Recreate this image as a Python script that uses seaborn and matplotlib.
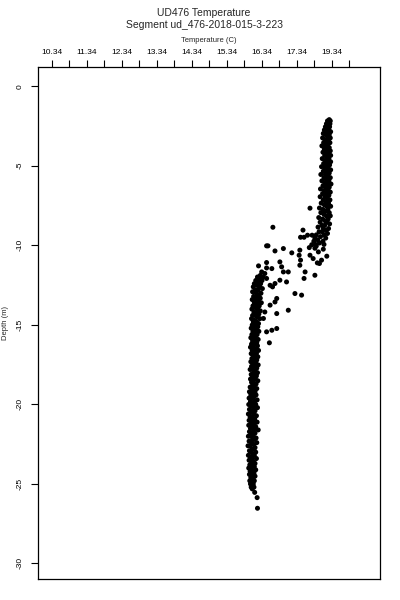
import matplotlib
matplotlib.use("Agg")
import matplotlib.pyplot as plt
import seaborn as sns
import pandas as pd

# ---- data ----
title_main = "UD476 Temperature"
title_sub = "Segment ud_476-2018-015-3-223"
x_label = "Temperature (C)"
y_label = "Depth (m)"

x_tick_values = [10.34, 10.84, 11.34, 11.84, 12.34, 12.84, 13.34, 13.84, 14.34,
                 14.84, 15.34, 15.84, 16.34, 16.84, 17.34, 17.84, 18.34, 18.84]
x_tick_labels = ["10.34", "", "11.34", "", "12.34", "", "13.34", "", "14.34",
                 "", "15.34", "", "16.34", "", "17.34", "", "19.34", ""]
y_tick_values = [0, -5, -10, -15, -20, -25, -30]

# upper (warm) layer
upper_temp = [18.27, 18.22, 18.30, 18.25, 18.19, 18.29, 18.24, 18.16, 18.28, 18.21,
              18.13, 18.26, 18.20, 18.31, 18.10, 18.17, 18.27, 18.22, 18.08, 18.30,
              18.15, 18.25, 18.19, 18.11, 18.29, 18.23, 18.06, 18.17, 18.27, 18.13,
              18.21, 18.30, 18.09, 18.18, 18.25, 18.14, 18.31, 18.20, 18.07, 18.26,
              18.16, 18.22, 18.31, 18.11, 18.19, 18.28, 18.05, 18.15, 18.24, 18.31,
              18.10, 18.20, 18.27, 18.03, 18.16, 18.23, 18.12, 18.30, 18.19, 18.06,
              18.26, 18.14, 18.22, 18.32, 18.09, 18.18, 18.27, 18.02, 18.13, 18.24,
              18.30, 18.08, 18.19, 18.26, 18.01, 18.15, 18.22, 18.10, 18.29, 18.17,
              18.04, 18.25, 18.13, 18.20, 18.31, 17.99, 18.09, 18.23, 18.16, 18.03,
              18.27, 18.12, 18.19, 18.30, 17.97, 18.08, 18.24, 18.15, 18.01, 18.21,
              18.28, 18.06, 18.14, 17.95, 18.10, 18.25, 18.18, 17.98, 18.07, 18.22,
              17.90, 18.13, 18.02, 17.86, 18.17, 17.94, 18.09, 17.83, 17.99, 17.88,
              18.12]
upper_depth = [-2.10, -2.18, -2.18, -2.28, -2.36, -2.36, -2.47, -2.55, -2.55, -2.66,
               -2.75, -2.75, -2.86, -2.86, -2.97, -3.05, -3.05, -3.16, -3.25, -3.25,
               -3.36, -3.36, -3.47, -3.55, -3.55, -3.66, -3.75, -3.75, -3.86, -3.95,
               -3.95, -4.06, -4.15, -4.15, -4.26, -4.35, -4.35, -4.46, -4.55, -4.55,
               -4.66, -4.75, -4.75, -4.86, -4.95, -4.95, -5.06, -5.15, -5.15, -5.26,
               -5.35, -5.35, -5.46, -5.55, -5.55, -5.66, -5.75, -5.75, -5.86, -5.95,
               -5.95, -6.06, -6.15, -6.15, -6.26, -6.35, -6.35, -6.46, -6.55, -6.55,
               -6.66, -6.75, -6.75, -6.86, -6.95, -6.95, -7.06, -7.15, -7.15, -7.26,
               -7.35, -7.35, -7.46, -7.55, -7.55, -7.66, -7.75, -7.75, -7.86, -7.95,
               -7.95, -8.06, -8.15, -8.15, -8.26, -8.35, -8.35, -8.46, -8.55, -8.55,
               -8.66, -8.75, -8.75, -8.86, -8.95, -8.95, -9.06, -9.15, -9.15, -9.26,
               -9.35, -9.35, -9.46, -9.55, -9.55, -9.66, -9.75, -9.75, -9.86, -9.95,
               -9.95]

# scattered thermocline points
mid_temp = [17.45, 17.65, 16.48, 16.72, 16.96, 17.20, 17.43, 17.41, 17.77, 17.86,
            17.96, 18.05, 17.99, 18.20, 17.93, 17.72, 17.81, 17.45, 17.43, 17.58,
            17.55, 17.86, 16.25, 16.48, 16.48, 16.63, 16.86, 16.91, 16.96, 17.10,
            16.86, 16.72, 16.65, 16.58, 16.43, 16.34, 16.48, 17.05, 17.29, 17.48,
            16.77, 16.72, 17.10, 16.58, 16.77, 16.43, 16.39, 16.77, 16.63, 16.48,
            16.56, 16.66, 17.72, 17.55, 17.78, 16.52, 17.52, 17.90, 18.10, 17.70]
mid_depth = [-9.50, -9.37, -10.04, -10.36, -10.21, -10.48, -10.31, -10.63, -9.97, -10.19,
             -10.42, -10.94, -11.15, -10.69, -11.11, -10.63, -10.84, -10.94, -11.26, -11.68,
             -12.09, -11.89, -11.30, -11.09, -11.43, -11.47, -11.05, -11.36, -11.68, -11.68,
             -12.20, -12.41, -12.62, -12.52, -11.78, -11.68, -12.09, -12.31, -13.04, -13.14,
             -13.35, -13.57, -14.09, -13.77, -14.30, -14.20, -14.61, -15.24, -15.35, -15.45,
             -16.14, -8.87, -7.67, -9.50, -9.37, -10.04, -9.05, -10.05, -10.25, -10.15]

# lower (cool) layer
lower_temp = [16.30, 16.22, 16.38, 16.27, 16.17, 16.35, 16.25, 16.13, 16.31, 16.21,
              16.10, 16.28, 16.36, 16.16, 16.24, 16.08, 16.19, 16.32, 16.26, 16.11,
              16.21, 16.30, 16.07, 16.17, 16.25, 16.13, 16.33, 16.20, 16.09, 16.27,
              16.16, 16.06, 16.23, 16.30, 16.12, 16.19, 16.26, 16.08, 16.15, 16.22,
              16.05, 16.29, 16.14, 16.20, 16.10, 16.25, 16.07, 16.17, 16.23, 16.11,
              16.04, 16.19, 16.09, 16.26, 16.14, 16.06, 16.21, 16.17, 16.03, 16.12,
              16.24, 16.08, 16.16, 16.20, 16.05, 16.13, 16.22, 16.10, 16.02, 16.17,
              16.07, 16.25, 16.13, 16.04, 16.19, 16.10, 16.16, 16.23, 16.06, 16.12,
              16.20, 16.03, 16.09, 16.17, 16.24, 16.05, 16.13, 16.20, 16.08, 16.01,
              16.15, 16.11, 16.22, 16.04, 16.14, 16.19, 16.07, 16.02, 16.16, 16.23,
              16.10, 16.05, 16.18, 16.08, 16.13, 16.01, 16.11, 16.20, 16.06, 16.15,
              15.99, 16.09, 16.03, 16.18, 16.12, 15.98, 16.07, 16.21, 16.02, 16.14,
              16.08, 15.97, 16.17, 16.05, 16.11, 16.22, 15.99, 16.08, 16.15, 16.03,
              16.12, 15.96, 16.19, 16.06, 16.01, 16.14, 15.98, 16.09, 16.21, 16.04,
              16.13, 15.97, 16.07, 16.17, 16.02, 16.11, 16.24, 15.99, 16.06, 16.15,
              16.10, 15.96, 16.03, 16.18, 16.08, 16.13, 15.98, 16.05, 16.20, 16.11,
              16.01, 15.95, 16.15, 16.07, 16.12, 15.99, 16.04, 16.17, 16.09, 15.96,
              16.13, 16.02, 16.07, 16.19, 15.98, 16.11, 16.05, 16.15, 16.00, 16.08,
              16.13, 15.97, 16.04, 16.17, 16.09, 16.01, 16.12, 15.99, 16.06, 16.15,
              16.03, 16.10, 16.07, 16.00, 16.13, 16.05, 16.10, 16.02, 16.08, 16.04,
              16.12, 16.07, 16.14, 16.21, 16.22]
lower_depth = [-11.90, -12.00, -12.00, -12.12, -12.22, -12.22, -12.33, -12.42, -12.42, -12.53,
               -12.62, -12.62, -12.73, -12.82, -12.82, -12.93, -13.02, -13.02, -13.13, -13.22,
               -13.22, -13.33, -13.42, -13.42, -13.53, -13.62, -13.62, -13.73, -13.82, -13.82,
               -13.93, -14.02, -14.02, -14.13, -14.22, -14.22, -14.33, -14.42, -14.42, -14.53,
               -14.62, -14.62, -14.73, -14.82, -14.82, -14.93, -15.02, -15.02, -15.13, -15.22,
               -15.22, -15.33, -15.42, -15.42, -15.53, -15.62, -15.62, -15.73, -15.82, -15.82,
               -15.93, -16.02, -16.02, -16.13, -16.22, -16.22, -16.33, -16.42, -16.42, -16.53,
               -16.62, -16.62, -16.73, -16.82, -16.82, -16.93, -17.02, -17.02, -17.13, -17.22,
               -17.22, -17.33, -17.42, -17.42, -17.53, -17.62, -17.62, -17.73, -17.82, -17.82,
               -17.93, -18.02, -18.02, -18.13, -18.22, -18.22, -18.33, -18.42, -18.42, -18.53,
               -18.62, -18.62, -18.73, -18.82, -18.82, -18.93, -19.02, -19.02, -19.13, -19.22,
               -19.22, -19.33, -19.42, -19.42, -19.53, -19.62, -19.62, -19.73, -19.82, -19.82,
               -19.93, -20.02, -20.02, -20.13, -20.22, -20.22, -20.33, -20.42, -20.42, -20.53,
               -20.62, -20.62, -20.73, -20.82, -20.82, -20.93, -21.02, -21.02, -21.13, -21.22,
               -21.22, -21.33, -21.42, -21.42, -21.53, -21.62, -21.62, -21.73, -21.82, -21.82,
               -21.93, -22.02, -22.02, -22.13, -22.22, -22.22, -22.33, -22.42, -22.42, -22.53,
               -22.62, -22.62, -22.73, -22.82, -22.82, -22.93, -23.02, -23.02, -23.13, -23.22,
               -23.22, -23.33, -23.42, -23.42, -23.53, -23.62, -23.62, -23.73, -23.82, -23.82,
               -23.93, -24.02, -24.02, -24.13, -24.22, -24.22, -24.33, -24.42, -24.42, -24.53,
               -24.62, -24.62, -24.73, -24.82, -24.82, -24.93, -25.02, -25.02, -25.13, -25.22,
               -25.22, -25.33, -25.55, -25.88, -26.55]

# ---- build table ----
df = pd.DataFrame({
    "temp": upper_temp + mid_temp + lower_temp,
    "depth": upper_depth + mid_depth + lower_depth,
})

sns.set_theme(style="ticks")
plt.rcParams["font.family"] = ["Liberation Sans", "DejaVu Sans"]

fig = plt.figure(figsize=(4, 6), dpi=100)
ax = fig.add_axes([0.095, 0.035, 0.855, 0.853])

sns.scatterplot(data=df, x="temp", y="depth", ax=ax, color="black",
                s=13, linewidth=0, edgecolor="none", legend=False)

ax.set_xlim(9.95, 19.72)
ax.set_ylim(-31.0, 1.2)

ax.xaxis.tick_top()
ax.xaxis.set_label_position("top")
ax.set_xticks(x_tick_values)
ax.set_xticklabels(x_tick_labels)
ax.set_yticks(y_tick_values)
ax.set_yticklabels([str(v) for v in y_tick_values], rotation=90, va="center")

ax.tick_params(axis="both", direction="out", length=5, width=0.8, color="black",
               labelsize=6, labelcolor="black")
ax.tick_params(axis="x", pad=3)
ax.tick_params(axis="y", pad=5)

for sp in ax.spines.values():
    sp.set_visible(True)
    sp.set_color("black")
    sp.set_linewidth(0.9)

ax.set_xlabel(x_label, fontsize=5.5, labelpad=5)
ax.set_ylabel(y_label, fontsize=5.5, labelpad=6)
ax.grid(False)

fig.text(0.51, 0.979, title_main, ha="center", va="center", fontsize=7.5)
fig.text(0.51, 0.959, title_sub, ha="center", va="center", fontsize=7.5)

fig.savefig("out.png", dpi=100, facecolor="white")
